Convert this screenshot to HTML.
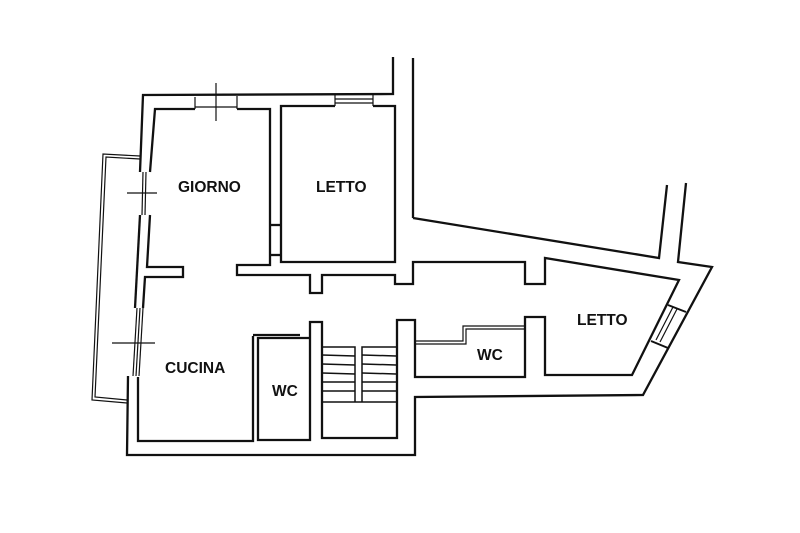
<!DOCTYPE html>
<html><head><meta charset="utf-8"><style>
html,body{margin:0;padding:0;background:#fff;}
svg{display:block}
text{font-family:"Liberation Sans",sans-serif;font-weight:bold;font-size:15.5px;fill:#111}
</style></head><body>
<svg width="800" height="533" viewBox="0 0 800 533" xmlns="http://www.w3.org/2000/svg">
<g fill="none" stroke="#111" stroke-width="2.3" stroke-linejoin="miter">
<polyline points="140,172 143,95 393,94 393,57"/>
<line x1="413" y1="58" x2="413" y2="218"/>
<polyline points="413,218 659,258 667,185"/>
<polyline points="686,183 678,262 712,267 643,395 415,397 415,455 127,455 128,376"/>
<polyline points="150,172 155,109 195,109"/>
<polyline points="237,109 270,109 270,265 237,265 237,275 310,275 310,293 322,293 322,275 395,275 395,284 413,284 413,262 525,262 525,284 545,284 545,258 679,280 632,375 545,375 545,317 525,317 525,377 415,377 415,320 397,320 397,438 322,438 322,322 310,322 310,440 258,440 258,338 310,338"/>
<polyline points="253,336 253,441 138,441 138,377"/>
<line x1="253" y1="335" x2="300" y2="335"/>
<polyline points="373,106 395,106 395,262 281,262 281,106 335,106"/>
<line x1="270" y1="225" x2="281" y2="225"/>
<line x1="270" y1="255" x2="281" y2="255"/>
<polyline points="150,215 147,267 183,267 183,277 145,277 143,308"/>
<polyline points="140,215 135,308"/>
<g stroke-width="1.2">
<line x1="195" y1="97" x2="195" y2="109"/><line x1="237" y1="96" x2="237" y2="109"/>
<line x1="195" y1="107" x2="237" y2="107"/>
<line x1="216" y1="83" x2="216" y2="121"/>
<line x1="335" y1="95" x2="335" y2="106"/><line x1="373" y1="94" x2="373" y2="106"/>
<line x1="335" y1="99" x2="373" y2="99"/><line x1="335" y1="103" x2="373" y2="103"/>
<line x1="143" y1="172" x2="142" y2="215"/><line x1="146" y1="172" x2="145" y2="215"/>
<line x1="127" y1="193" x2="157" y2="193"/>
<line x1="137" y1="308" x2="133" y2="376"/><line x1="140" y1="308" x2="136" y2="376"/><line x1="143" y1="308" x2="139" y2="376"/>
<line x1="112" y1="343" x2="155" y2="343"/>
<polyline points="140,156 103,154 92,400 127,403"/>
<polyline points="140,159 106,157 95,397 127,400"/>
<line x1="668" y1="305" x2="686" y2="312" stroke-width="2"/><line x1="651" y1="341" x2="668" y2="348" stroke-width="2"/>
<line x1="656" y1="340" x2="673" y2="307"/><line x1="660" y1="342" x2="677" y2="309"/>
<polyline points="415,341 463,341 463,326 525,326"/>
<polyline points="415,344 466,344 466,329 525,329"/>
</g>
<g stroke-width="1.5">
<polyline points="322,347 355,347 355,402"/>
<polyline points="396,347 362,347 362,402"/>
<line x1="322" y1="402" x2="396" y2="402"/>
<line x1="322" y1="355" x2="355" y2="356"/><line x1="322" y1="364" x2="355" y2="365"/>
<line x1="322" y1="373" x2="355" y2="374"/><line x1="322" y1="382" x2="355" y2="382"/>
<line x1="322" y1="391" x2="355" y2="391"/>
<line x1="362" y1="355" x2="396" y2="356"/><line x1="362" y1="364" x2="396" y2="365"/>
<line x1="362" y1="373" x2="396" y2="374"/><line x1="362" y1="382" x2="396" y2="382"/>
<line x1="362" y1="391" x2="396" y2="391"/>
</g>
</g>
<text x="178" y="192">GIORNO</text>
<text x="316" y="192">LETTO</text>
<text x="165" y="373">CUCINA</text>
<text x="272" y="396">WC</text>
<text x="477" y="360">WC</text>
<text x="577" y="325">LETTO</text>
</svg>
</body></html>
